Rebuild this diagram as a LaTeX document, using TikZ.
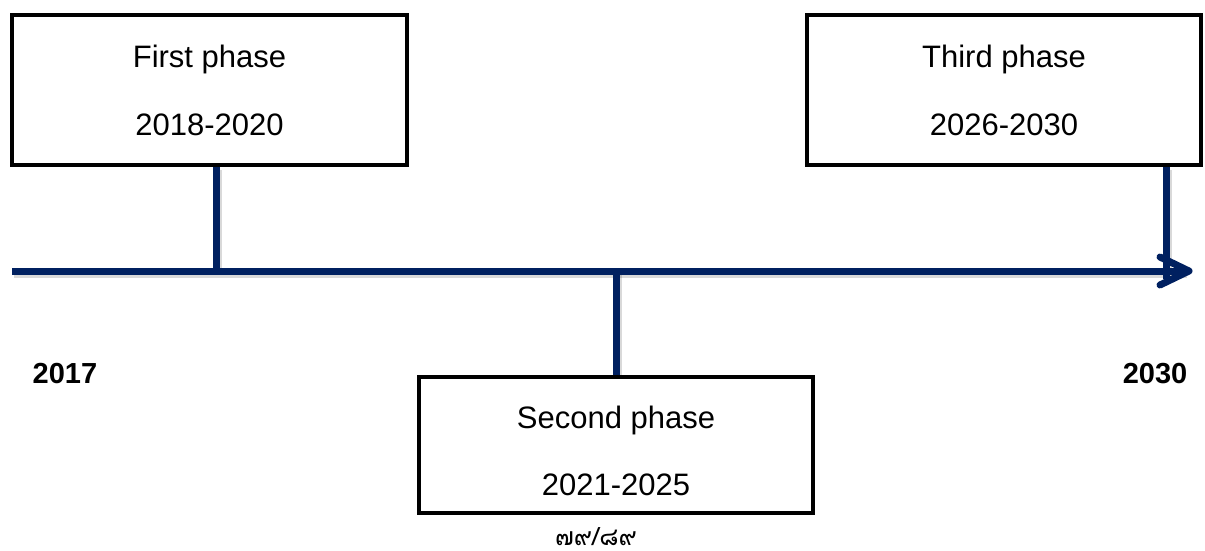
\documentclass[tikz,border=0pt]{standalone}
\usepackage{fontspec}
\setmainfont{Liberation Sans}
\newfontfamily\thaifont[Script=Thai]{Loma}
\definecolor{navy}{RGB}{0,32,96}
\begin{document}
\begin{tikzpicture}[x=1pt,y=-1pt,
  phasebox/.style={draw=black, line width=4pt, fill=white, inner sep=0pt},
  lbl/.style={font=\fontsize{31}{31}\selectfont, anchor=base, inner sep=0pt},
  yearlbl/.style={font=\bfseries\fontsize{29}{29}\selectfont, anchor=base, inner sep=0pt},
  tl/.style={draw=navy, line width=7pt},
  shade/.style={draw=black, opacity=0.15, line width=8pt, transform canvas={shift={(1.5pt,-3pt)}}}
]
\useasboundingbox (0,0) rectangle (1205,550);
% axis coordinates
\coordinate (a0) at (12,271);
\coordinate (a1) at (1189,271);
\coordinate (j1) at (216,271);
\coordinate (j2) at (616,271);
\coordinate (j3) at (1166,279);
% boxes
\node[phasebox, minimum width=395pt, minimum height=150pt] (p1) at (209.5,90) {};
\node[phasebox, minimum width=394pt, minimum height=150pt] (p3) at (1004,89.5) {};
\node[phasebox, minimum width=394pt, minimum height=136pt] (p2) at (616,445) {};
% shadows
\draw[shade] (a0) -- ([xshift=-4pt]a1);
\draw[shade] (j1) -- (j1 |- p1.south);
\draw[shade] (j2) -- (j2 |- p2.north);
\draw[shade] (j3) -- (j3 |- p3.south);
% timeline
\draw[tl, shorten >=3pt] (a0) -- (a1);
\draw[tl] (j1) -- (j1 |- p1.south);
\draw[tl] (j2) -- (j2 |- p2.north);
\draw[tl] (j3) -- (j3 |- p3.south);
\draw[tl, line cap=round, line join=round] ([shift={(-29,-14)}]a1) -- (a1) -- ([shift={(-29,14)}]a1);
% box texts
\node[lbl] (t1a) at (209.5,67) {First phase};
\node[lbl] (t1b) at (209.5,135) {2018-2020};
\node[lbl] (t3a) at (1004,67) {Third phase};
\node[lbl] (t3b) at (1004,135) {2026-2030};
\node[lbl] (t2a) at (616,428) {Second phase};
\node[lbl] (t2b) at (616,495) {2021-2025};
% years
\node[yearlbl] (y0) at (65,383) {2017};
\node[yearlbl] (y1) at (1155,383) {2030};
% page mark
\node[font=\thaifont\fontsize{25}{25}\selectfont, anchor=base, inner sep=0pt] (pg) at (596,545) {๗๙/๘๙};
\end{tikzpicture}
\end{document}
